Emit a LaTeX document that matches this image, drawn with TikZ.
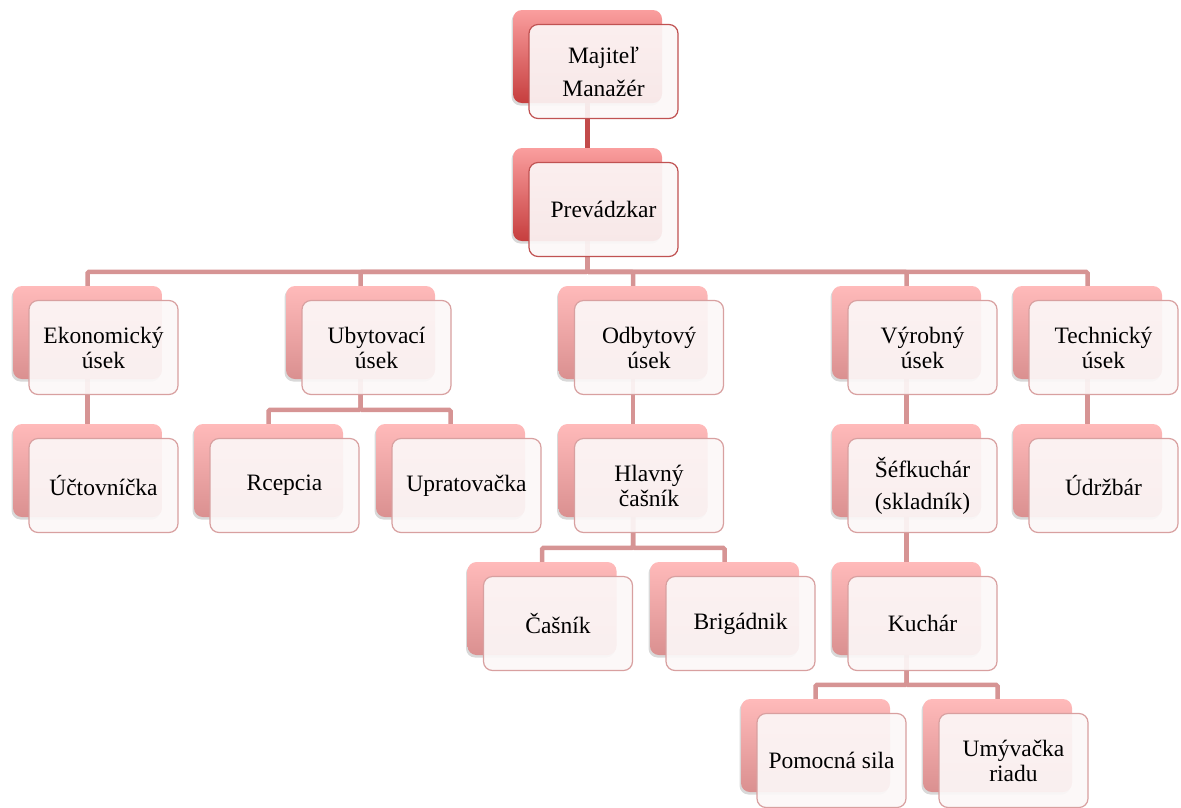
\documentclass[tikz,border=0pt]{standalone}
\usepackage{fontspec}
\setmainfont{Liberation Serif}
\usetikzlibrary{backgrounds,shadows}
\definecolor{topred}{RGB}{250,158,158}
\definecolor{botred}{RGB}{198,62,62}
\definecolor{edgered}{RGB}{192,82,82}
\definecolor{toppink}{RGB}{255,186,186}
\definecolor{botpink}{RGB}{218,144,144}
\definecolor{edgepink}{RGB}{216,160,160}
\definecolor{linkred}{RGB}{194,74,74}
\definecolor{linkpink}{RGB}{214,148,148}
\definecolor{paper}{RGB}{252,247,247}
\tikzset{
  backbox/.style={rounded corners=9pt, minimum width=149pt, minimum height=93pt,
    inner sep=0pt, top color=toppink, bottom color=botpink,
    drop shadow={shadow xshift=-1.5pt, shadow yshift=-2.5pt, opacity=.3}},
  backbox top/.style={backbox, top color=topred, bottom color=botred},
  frontbox/.style={rounded corners=9pt, draw=edgepink, line width=1.2pt,
    fill=paper, fill opacity=.92, text opacity=1, minimum width=149pt,
    minimum height=94pt, inner sep=2pt, align=center,
    font=\fontsize{23.5}{25}\selectfont},
  frontbox top/.style={frontbox, draw=edgered},
  link/.style={draw=linkpink, line width=4.5pt, rounded corners=1.5pt},
  link top/.style={link, draw=linkred}
}
\begin{document}
\begin{tikzpicture}[x=1pt, y=-1pt]
  \def\dx{16}
  \def\dy{15}
  \useasboundingbox (0,0) rectangle (1181,807);
  % back boxes
  \node[backbox top] (maj) at (587.5,56.5) {};
  \node[backbox top] (prev) at (587.5,194.5) {};
  \node[backbox] (eko) at (87.5,332.5) {};
  \node[backbox] (uby) at (360.5,332.5) {};
  \node[backbox] (odb) at (633,332.5) {};
  \node[backbox] (vyr) at (906.5,332.5) {};
  \node[backbox] (tech) at (1087.5,332.5) {};
  \node[backbox] (uct) at (87.5,470.5) {};
  \node[backbox] (rcep) at (268.5,470.5) {};
  \node[backbox] (uprat) at (450.5,470.5) {};
  \node[backbox] (hlav) at (633,470.5) {};
  \node[backbox] (sef) at (906.5,470.5) {};
  \node[backbox] (udrz) at (1087.5,470.5) {};
  \node[backbox] (casnik) at (542,608.5) {};
  \node[backbox] (brig) at (724.5,608.5) {};
  \node[backbox] (kuch) at (906.5,608.5) {};
  \node[backbox] (pom) at (815.5,745.5) {};
  \node[backbox] (umyv) at (997.5,745.5) {};
  % front boxes
  \node[frontbox top, font=\fontsize{23.5}{33}\selectfont] (majT)
    at ([shift={(\dx,\dy)}]maj) {Majiteľ\\Manažér};
  \node[frontbox top] (prevT) at ([shift={(\dx,\dy)}]prev) {Prevádzkar};
  \node[frontbox] (ekoT) at ([shift={(\dx,\dy)}]eko) {Ekonomický\\úsek};
  \node[frontbox] (ubyT) at ([shift={(\dx,\dy)}]uby) {Ubytovací\\úsek};
  \node[frontbox] (odbT) at ([shift={(\dx,\dy)}]odb) {Odbytový\\úsek};
  \node[frontbox] (vyrT) at ([shift={(\dx,\dy)}]vyr) {Výrobný\\úsek};
  \node[frontbox] (techT) at ([shift={(\dx,\dy)}]tech) {Technický\\úsek};
  \node[frontbox] (uctT) at ([shift={(\dx,\dy)}]uct) {Účtovníčka};
  \node[frontbox] (rcepT) at ([shift={(\dx,\dy)}]rcep) {Rcepcia};
  \node[frontbox] (upratT) at ([shift={(\dx,\dy)}]uprat) {Upratovačka};
  \node[frontbox] (hlavT) at ([shift={(\dx,\dy)}]hlav) {Hlavný\\čašník};
  \node[frontbox, font=\fontsize{23.5}{32}\selectfont] (sefT)
    at ([shift={(\dx,\dy)}]sef) {Šéfkuchár\\(skladník)};
  \node[frontbox] (udrzT) at ([shift={(\dx,\dy)}]udrz) {Údržbár};
  \node[frontbox] (casnikT) at ([shift={(\dx,\dy)}]casnik) {Čašník};
  \node[frontbox] (brigT) at ([shift={(\dx,\dy)}]brig) {Brigádnik};
  \node[frontbox] (kuchT) at ([shift={(\dx,\dy)}]kuch) {Kuchár};
  \node[frontbox] (pomT) at ([shift={(\dx,\dy)}]pom) {Pomocná sila};
  \node[frontbox] (umyvT) at ([shift={(\dx,\dy)}]umyv) {Umývačka\\riadu};
  % connectors
  \begin{scope}[on background layer]
    \draw[link top] (maj) -- (prev);
    \foreach \c in {eko,uby,odb,vyr,tech}
      \draw[link] (prev) |- ([yshift=14pt]\c.north) -- (\c);
    \draw[link] (eko) -- (uct);
    \draw[link] (uby) |- ([yshift=14pt]rcep.north) -- (rcep);
    \draw[link] (uby) |- ([yshift=14pt]uprat.north) -- (uprat);
    \draw[link] (odb) -- (hlav);
    \draw[link] (hlav) |- ([yshift=14pt]casnik.north) -- (casnik);
    \draw[link] (hlav) |- ([yshift=14pt]brig.north) -- (brig);
    \draw[link] (vyr) -- (sef);
    \draw[link] (sef) -- (kuch);
    \draw[link] (kuch) |- ([yshift=14pt]pom.north) -- (pom);
    \draw[link] (kuch) |- ([yshift=14pt]umyv.north) -- (umyv);
    \draw[link] (tech) -- (udrz);
  \end{scope}
\end{tikzpicture}
\end{document}
